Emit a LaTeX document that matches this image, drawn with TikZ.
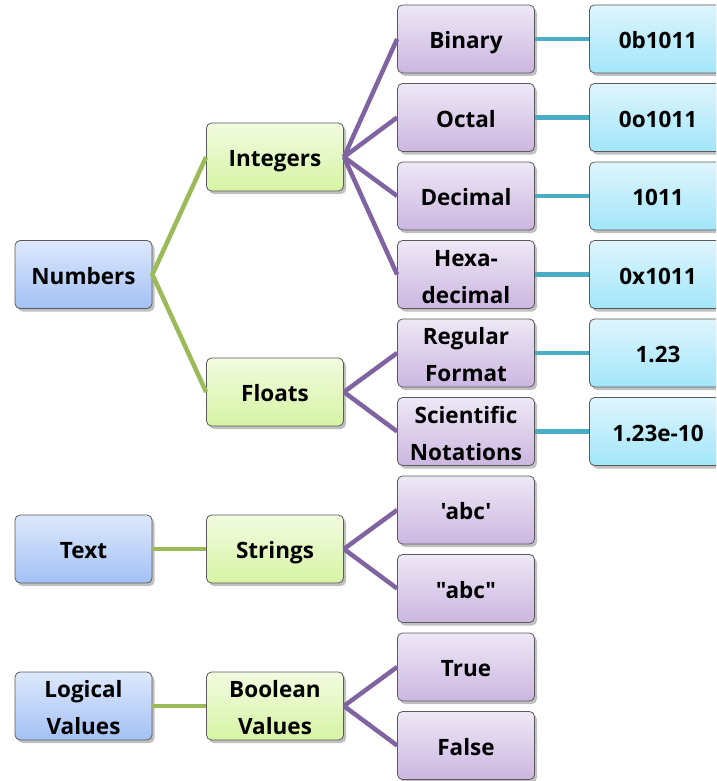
\documentclass[tikz,border=0pt]{standalone}
\usepackage{fontspec}
\setmainfont{Open Sans}[Ligatures=TeXOff]
\usetikzlibrary{shadows}
\definecolor{lnGreen}{HTML}{9BBB59}
\definecolor{lnPurple}{HTML}{8064A2}
\definecolor{lnCyan}{HTML}{4BACC6}
\definecolor{bxBorder}{HTML}{5A5A5A}
\definecolor{blueTop}{HTML}{DDE8FC}
\definecolor{blueBot}{HTML}{A3C1F5}
\definecolor{greenTop}{HTML}{F2FBE0}
\definecolor{greenBot}{HTML}{D6F4A4}
\definecolor{purpleTop}{HTML}{EEE8F6}
\definecolor{purpleBot}{HTML}{CBB6E0}
\definecolor{cyanTop}{HTML}{DFF5FD}
\definecolor{cyanBot}{HTML}{A2E6FA}
\tikzset{
  box/.style={draw=bxBorder, line width=0.8pt, rounded corners=5pt,
    minimum width=137pt, minimum height=68pt, inner sep=0pt, align=center,
    font=\bfseries\fontsize{22.5}{37}\selectfont, text=black,
    text height=19.5pt, text depth=0pt,
    drop shadow={shadow xshift=2.5pt, shadow yshift=-3pt, fill=black!45, opacity=0.55}},
  twoline/.style={text height=57pt, text depth=0pt},
  bluebox/.style={box, top color=blueTop, bottom color=blueBot},
  greenbox/.style={box, top color=greenTop, bottom color=greenBot},
  purplebox/.style={box, top color=purpleTop, bottom color=purpleBot},
  cyanbox/.style={box, top color=cyanTop, bottom color=cyanBot},
  glink/.style={draw=lnGreen, line width=4.5pt},
  plink/.style={draw=lnPurple, line width=4.5pt},
  clink/.style={draw=lnCyan, line width=4.5pt},
}
\begin{document}
\begin{tikzpicture}[x=1pt, y=-1pt]
\useasboundingbox (0,0) rectangle (716,781);
\clip (0,0) rectangle (716,781);
% level 1
\node[bluebox] (num) at (83.5,274.5) {Numbers};
\node[bluebox] (txt) at (83.5,549) {Text};
\node[bluebox, twoline] (log) at (83.5,706) {Logical\\Values};
% level 2
\node[greenbox] (int) at (275,157) {Integers};
\node[greenbox] (flo) at (275,392) {Floats};
\node[greenbox] (str) at (275,549) {Strings};
\node[greenbox, twoline] (boo) at (275,706) {Boolean\\Values};
% level 3
\node[purplebox] (bin) at (466,39) {Binary};
\node[purplebox] (oct) at (466,117.5) {Octal};
\node[purplebox] (dec) at (466,196) {Decimal};
\node[purplebox, twoline] (hex) at (466,274.5) {Hexa-\\decimal};
\node[purplebox, twoline] (reg) at (466,353) {Regular\\Format};
\node[purplebox, twoline] (sci) at (466,431.5) {Scientific\\Notations};
\node[purplebox] (sq) at (466,510) {'abc'};
\node[purplebox] (dq) at (466,588.5) {"abc"};
\node[purplebox] (tru) at (466,667) {True};
\node[purplebox] (fal) at (466,745.5) {False};
% level 4
\node[cyanbox] (vbin) at (658,39) {0b1011};
\node[cyanbox] (voct) at (658,117.5) {0o1011};
\node[cyanbox] (vdec) at (658,196) {1011};
\node[cyanbox] (vhex) at (658,274.5) {0x1011};
\node[cyanbox] (vreg) at (658,353) {1.23};
\node[cyanbox] (vsci) at (658,431.5) {1.23e-10};
% connectors
\draw[glink] (int.west) -- (num.east) -- (flo.west);
\draw[glink] (txt.east) -- (str.west);
\draw[glink] (log.east) -- (boo.west);
\foreach \t in {bin,oct,dec,hex} \draw[plink] (int.east) -- (\t.west);
\foreach \t in {reg,sci} \draw[plink] (flo.east) -- (\t.west);
\foreach \t in {sq,dq} \draw[plink] (str.east) -- (\t.west);
\foreach \t in {tru,fal} \draw[plink] (boo.east) -- (\t.west);
\foreach \t in {bin,oct,dec,hex,reg,sci} \draw[clink] (\t.east) -- (v\t.west);
\end{tikzpicture}
\end{document}
